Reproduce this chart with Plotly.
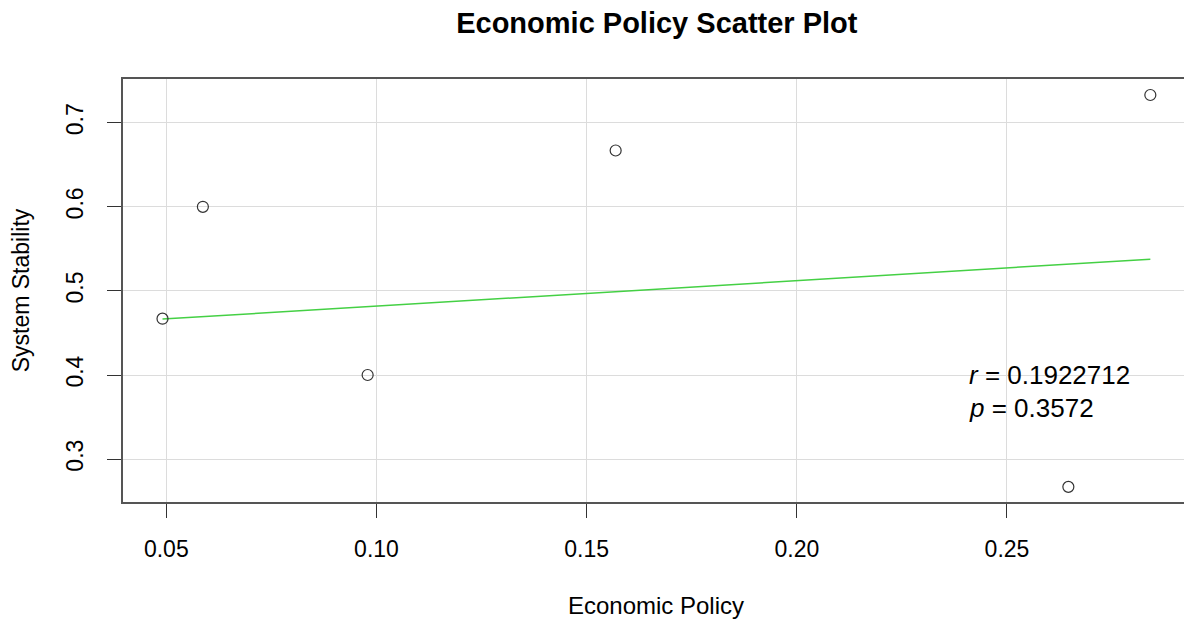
import plotly.graph_objects as go

# Data
economic_policy = [0.0491, 0.0587, 0.0979, 0.1569, 0.2841, 0.2646]
system_stability = [0.467, 0.600, 0.400, 0.667, 0.733, 0.267]
fit_x = [0.0491, 0.2841]
fit_y = [0.4665, 0.5377]
x_ticks = [0.05, 0.10, 0.15, 0.20, 0.25]
x_tick_labels = ["0.05", "0.10", "0.15", "0.20", "0.25"]
y_ticks = [0.3, 0.4, 0.5, 0.6, 0.7]
y_tick_labels = ["0.3", "0.4", "0.5", "0.6", "0.7"]
r_text = "<i>r</i> = 0.1922712"
p_text = "<i>p</i> = 0.3572"

FONT = "Liberation Sans, Arial, sans-serif"

fig = go.Figure()
fig.add_trace(go.Scatter(
    x=fit_x, y=fit_y, mode="lines",
    line=dict(color="#44d044", width=1.5),
    showlegend=False, hoverinfo="skip"))
fig.add_trace(go.Scatter(
    x=economic_policy, y=system_stability, mode="markers",
    marker=dict(symbol="circle-open", size=11, color="#333333",
                line=dict(width=1.2, color="#333333")),
    showlegend=False))

fig.add_annotation(x=0.2406, y=0.4002, xref="x", yref="y", text=r_text,
                   showarrow=False, xanchor="left", yanchor="middle",
                   font=dict(family=FONT, size=26, color="black"))
fig.add_annotation(x=0.2406, y=0.3610, xref="x", yref="y", text=p_text,
                   showarrow=False, xanchor="left", yanchor="middle",
                   font=dict(family=FONT, size=26, color="black"))

fig.update_layout(
    width=1184, height=613,
    paper_bgcolor="white", plot_bgcolor="white",
    margin=dict(l=115, r=3, t=71, b=119, autoexpand=False),
    title=dict(text="<b>Economic Policy Scatter Plot</b>", x=0.548, xanchor="center",
               y=0.976, yanchor="middle",
               font=dict(family=FONT, size=29, color="black")),
    font=dict(family=FONT, color="black"),
)
fig.update_xaxes(
    automargin=False,
    range=[0.0397, 0.2933], tickvals=x_ticks, ticktext=x_tick_labels,
    showgrid=True, gridcolor="#dcdcdc", gridwidth=1, zeroline=False,
    showline=True, linecolor="#555555", linewidth=1.5, mirror=True,
    ticks="outside", ticklen=14, tickcolor="#333333", tickwidth=1.2,
    tickfont=dict(family=FONT, size=23, color="black"),
    ticklabelstandoff=12,
    title=dict(text="Economic Policy", font=dict(family=FONT, size=24, color="black"),
               standoff=36),
)
fig.update_yaxes(
    automargin=False,
    range=[0.249, 0.752], tickvals=y_ticks, ticktext=y_tick_labels,
    showgrid=True, gridcolor="#dcdcdc", gridwidth=1, zeroline=False,
    showline=True, linecolor="#555555", linewidth=1.5, mirror=True,
    ticks="outside", ticklen=14, tickcolor="#333333", tickwidth=1.2,
    tickangle=-90,
    tickfont=dict(family=FONT, size=23, color="black"),
    ticklabelstandoff=15,
    title=dict(text="System Stability", font=dict(family=FONT, size=23, color="black"),
               standoff=38),
)

fig.write_html("out.html")
